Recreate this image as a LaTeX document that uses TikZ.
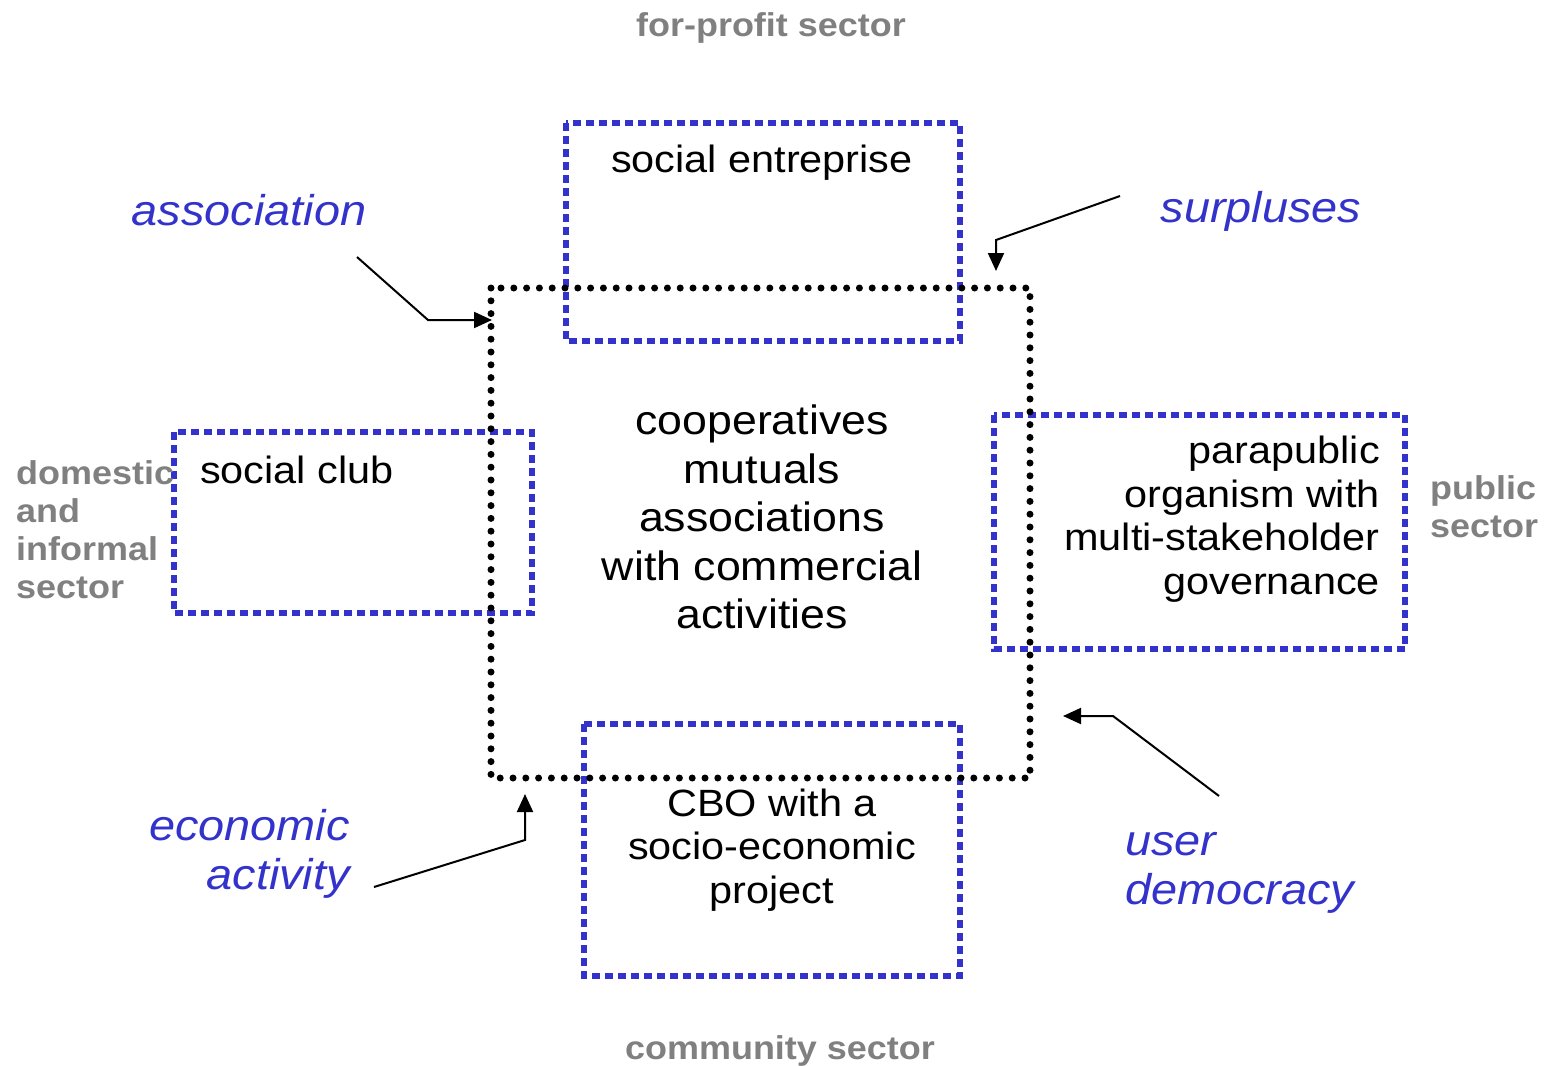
\documentclass[tikz,border=0pt]{standalone}
\usepackage{fontspec}
\setmainfont[FakeStretch=1.09]{Liberation Sans}
\usetikzlibrary{arrows.meta}
\definecolor{boxblue}{RGB}{51,51,204}
\definecolor{labblue}{RGB}{51,51,204}
\definecolor{sectgray}{RGB}{128,128,128}
\tikzset{
  bluebox/.style={draw=boxblue, line width=5.5pt, dash pattern=on 8pt off 5pt},
  blackbox/.style={draw=black, line width=7pt, line cap=round, dash pattern=on 0pt off 12.8pt},
  boxtext/.style={inner sep=0pt, font=\fontsize{38}{43.5}\selectfont},
  centertext/.style={inner sep=0pt, align=center, font=\fontsize{41}{48.5}\selectfont},
  bluelab/.style={inner sep=0pt, text=labblue, font=\fontsize{43}{49}\selectfont\itshape},
  graylab/.style={inner sep=0pt, text=sectgray, font=\fontsize{33}{38}\selectfont\bfseries},
  pointer/.style={draw=black, line width=2pt, -{Triangle[length=18pt,width=16pt]}}
}
\begin{document}
\begin{tikzpicture}[x=1pt,y=-1pt]
\useasboundingbox[fill=white] (0,0) rectangle (1552,1065);
% boxes
\draw[bluebox] (566,123) rectangle (960,341);
\draw[bluebox] (174,432) rectangle (532,613);
\draw[bluebox] (994,415) rectangle (1405,649);
\draw[bluebox] (584,724) rectangle (960,976);
\draw[blackbox] (491,288) rectangle (1030,778);
% texts in boxes
\node[boxtext] (se) at (762,163) {social entreprise};
\node[boxtext, anchor=west] (sc) at (200,470) {social club};
\node[boxtext, anchor=east, align=right] (pp) at (1380,519) {parapublic\\organism with\\multi-stakeholder\\governance};
\node[boxtext, align=center] (cbo) at (772,850) {CBO with a\\socio-economic\\project};
\node[centertext] (core) at (762,517) {cooperatives\\mutuals\\associations\\with commercial\\activities};
% blue labels
\node[bluelab] (assoc) at (249,210) {association};
\node[bluelab] (surp) at (1261,211) {surpluses};
\node[bluelab, anchor=east, align=right] (econ) at (350,854) {economic\\activity};
\node[bluelab, anchor=west, align=left] (user) at (1125,873) {user\\democracy};
% gray sector labels
\node[graylab] (fp) at (771,28) {for-profit sector};
\node[graylab] (cs) at (780,1051) {community sector};
\node[graylab, anchor=west, align=left] (dom) at (16,530) {domestic\\and\\informal\\sector};
\node[graylab, anchor=west, align=left] (pub) at (1430,507) {public\\sector};
% pointer ends
\coordinate (a0) at (357,257);
\coordinate (a1) at (428,320);
\coordinate (a2) at (492,320);
\coordinate (s0) at (1120,196);
\coordinate (s1) at (996,240);
\coordinate (s2) at (996,271);
\coordinate (e0) at (374,887);
\coordinate (e1) at (525,840);
\coordinate (e2) at (525,794);
\coordinate (u0) at (1219,796);
\coordinate (u1) at (1113,716);
\coordinate (u2) at (1063,716);
\draw[pointer] (a0) -- (a1) -- (a2);
\draw[pointer] (s0) -- (s1) -- (s2);
\draw[pointer] (e0) -- (e1) -- (e2);
\draw[pointer] (u0) -- (u1) -- (u2);
\end{tikzpicture}
\end{document}
